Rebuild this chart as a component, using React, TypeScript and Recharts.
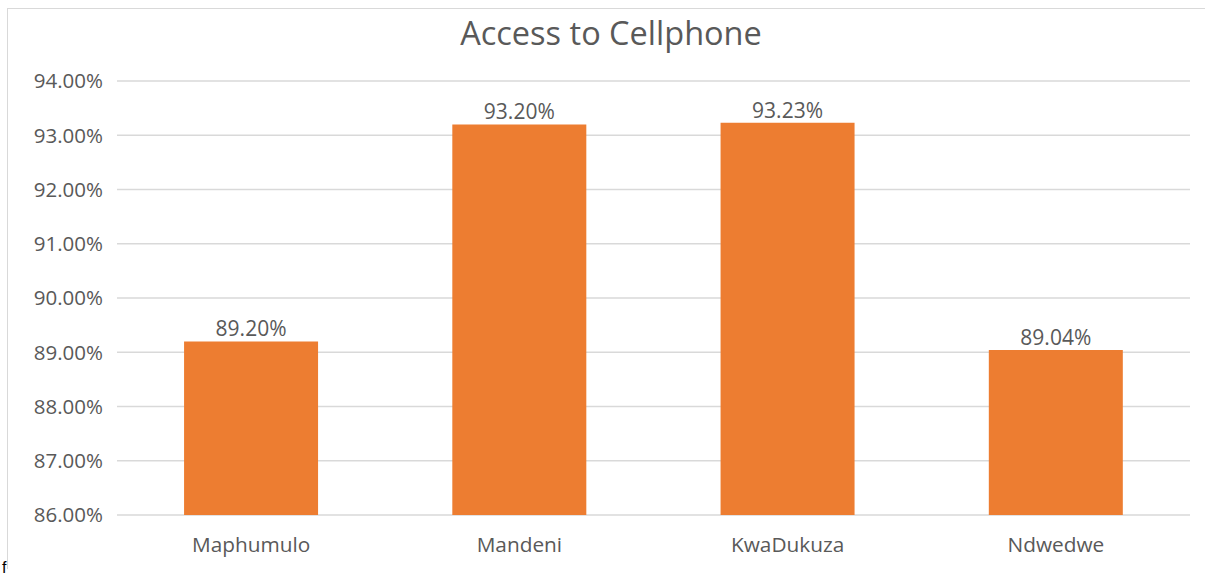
import { Bar, BarChart, CartesianGrid, LabelList, XAxis, YAxis } from 'recharts'

const municipalities = ['Maphumulo', 'Mandeni', 'KwaDukuza', 'Ndwedwe']
const cellphoneAccess = [89.2, 93.2, 93.23, 89.04]
const yTicks = [86, 87, 88, 89, 90, 91, 92, 93, 94]

const data = municipalities.map((name, i) => ({ name, value: cellphoneAccess[i] }))

const FONT = '"Open Sans", Lato, sans-serif'
const TEXT = '#595959'

const pct = (v: number) => `${Number(v).toFixed(2)}%`

export default function App() {
  return (
    <div style={{ position: 'absolute', left: 0, top: 0, width: 1205, height: 577, background: '#fff' }}>
      <div
        style={{
          position: 'absolute',
          left: 7,
          top: 8,
          width: 1198,
          height: 560,
          borderTop: '1px solid #d9d9d9',
          borderLeft: '1px solid #d9d9d9',
        }}
      />
      <div
        style={{
          position: 'absolute',
          left: 12,
          top: 10,
          width: 1198,
          textAlign: 'center',
          fontFamily: FONT,
          fontSize: 32.5,
          color: TEXT,
        }}
      >
        Access to Cellphone
      </div>
      <div style={{ position: 'absolute', left: 7, top: 9 }}>
        <BarChart
          width={1198}
          height={552}
          data={data}
          margin={{ top: 72, right: 15, bottom: 16, left: 0 }}
          barCategoryGap="25%"
        >
          <CartesianGrid vertical={false} stroke="#d9d9d9" strokeWidth={1.5} />
          <XAxis
            dataKey="name"
            axisLine={false}
            tickLine={false}
            tickMargin={16}
            height={30}
            tick={{ fill: TEXT, fontSize: 20.8, fontFamily: FONT }}
          />
          <YAxis
            domain={[86, 94]}
            ticks={yTicks}
            tickFormatter={pct}
            axisLine={false}
            tickLine={false}
            tickMargin={8}
            width={110}
            tick={{ fill: TEXT, fontSize: 20.5, fontFamily: FONT }}
          />
          <Bar dataKey="value" fill="#ED7D31" isAnimationActive={false}>
            <LabelList
              dataKey="value"
              position="top"
              offset={5}
              formatter={(v: number) => pct(v)}
              style={{ fill: TEXT, fontSize: 21, fontFamily: FONT }}
            />
          </Bar>
        </BarChart>
      </div>
      <span
        style={{
          position: 'absolute',
          left: 2,
          top: 559,
          fontFamily: 'sans-serif',
          fontSize: 16,
          color: '#000',
        }}
      >
        f
      </span>
    </div>
  )
}
